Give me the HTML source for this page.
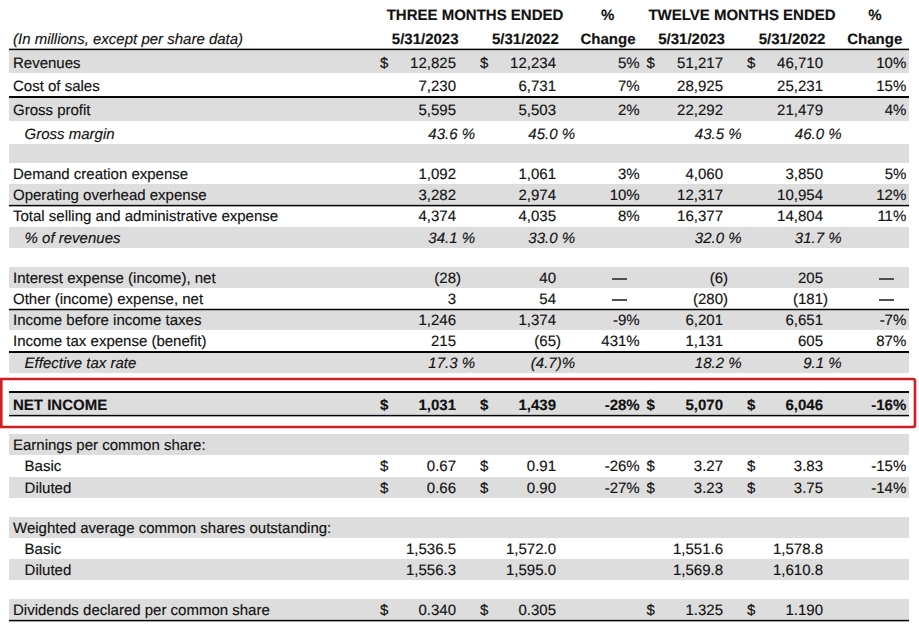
<!DOCTYPE html>
<html><head><meta charset="utf-8">
<style>
html,body{margin:0;padding:0;background:#fff;}
body{width:919px;height:636px;position:relative;overflow:hidden;font-family:"Liberation Sans",sans-serif;font-size:15px;color:#111;}
body>div{position:absolute;}
.t{white-space:nowrap;line-height:20px;text-rendering:geometricPrecision;-webkit-text-stroke:0.15px #111;}
</style></head><body>
<div style="left:9px;top:50px;width:900px;height:23px;background:#dddddd"></div>
<div style="left:9px;top:98px;width:900px;height:23px;background:#dddddd"></div>
<div style="left:9px;top:144px;width:900px;height:18.599999999999994px;background:#dddddd"></div>
<div style="left:9px;top:184px;width:900px;height:21px;background:#dddddd"></div>
<div style="left:9px;top:227px;width:900px;height:21px;background:#dddddd"></div>
<div style="left:9px;top:267px;width:900px;height:21px;background:#dddddd"></div>
<div style="left:9px;top:310px;width:900px;height:20px;background:#dddddd"></div>
<div style="left:9px;top:353px;width:900px;height:20px;background:#dddddd"></div>
<div style="left:9px;top:393px;width:900px;height:22px;background:#dddddd"></div>
<div style="left:9px;top:434px;width:900px;height:21px;background:#dddddd"></div>
<div style="left:9px;top:477px;width:900px;height:21px;background:#dddddd"></div>
<div style="left:9px;top:517px;width:900px;height:21px;background:#dddddd"></div>
<div style="left:9px;top:559px;width:900px;height:21px;background:#dddddd"></div>
<div style="left:9px;top:599px;width:900px;height:21px;background:#dddddd"></div>
<svg style="position:absolute;left:0;top:0" width="919" height="636" viewBox="0 0 919 636"><rect x="9" y="48.65" width="900" height="1.5" fill="#050505"/><rect x="9" y="96" width="900" height="2" fill="#050505"/><rect x="9" y="204.85" width="900" height="1.5" fill="#050505"/><rect x="9" y="308.75" width="900" height="1.5" fill="#050505"/><rect x="9" y="351" width="900" height="2" fill="#050505"/><rect x="9" y="391" width="900" height="2" fill="#050505"/><rect x="9" y="414.85" width="900" height="1.5" fill="#050505"/><rect x="9" y="619.85" width="900" height="1.5" fill="#050505"/></svg>
<div class="t" style="left:325.00px;width:300px;top:5.87px;text-align:center;font-weight:bold;">THREE MONTHS ENDED</div>
<div class="t" style="left:457.70px;width:300px;top:5.87px;text-align:center;font-weight:bold;">%</div>
<div class="t" style="left:592.00px;width:300px;top:5.87px;text-align:center;font-weight:bold;">TWELVE MONTHS ENDED</div>
<div class="t" style="left:725.00px;width:300px;top:5.87px;text-align:center;font-weight:bold;">%</div>
<div class="t" style="left:13px;top:29.87px;font-style:italic;">(In millions, except per share data)</div>
<div class="t" style="left:275.20px;width:300px;top:29.87px;text-align:center;font-weight:bold;">5/31/2023</div>
<div class="t" style="left:375.40px;width:300px;top:29.87px;text-align:center;font-weight:bold;">5/31/2022</div>
<div class="t" style="left:458.00px;width:300px;top:29.87px;text-align:center;font-weight:bold;">Change</div>
<div class="t" style="left:541.60px;width:300px;top:29.87px;text-align:center;font-weight:bold;">5/31/2023</div>
<div class="t" style="left:642.00px;width:300px;top:29.87px;text-align:center;font-weight:bold;">5/31/2022</div>
<div class="t" style="left:724.80px;width:300px;top:29.87px;text-align:center;font-weight:bold;">Change</div>
<div class="t" style="left:13px;top:53.87px;">Revenues</div>
<div class="t" style="left:380px;top:53.87px;">$</div>
<div class="t" style="left:480px;top:53.87px;">$</div>
<div class="t" style="left:646.5px;top:53.87px;">$</div>
<div class="t" style="left:747px;top:53.87px;">$</div>
<div class="t" style="right:463.00px;top:53.87px;text-align:right;">12,825</div>
<div class="t" style="right:363.00px;top:53.87px;text-align:right;">12,234</div>
<div class="t" style="right:279.30px;top:53.87px;text-align:right;">5%</div>
<div class="t" style="right:196.00px;top:53.87px;text-align:right;">51,217</div>
<div class="t" style="right:96.00px;top:53.87px;text-align:right;">46,710</div>
<div class="t" style="right:12.70px;top:53.87px;text-align:right;">10%</div>
<div class="t" style="left:13px;top:76.87px;">Cost of sales</div>
<div class="t" style="right:463.00px;top:76.87px;text-align:right;">7,230</div>
<div class="t" style="right:363.00px;top:76.87px;text-align:right;">6,731</div>
<div class="t" style="right:279.30px;top:76.87px;text-align:right;">7%</div>
<div class="t" style="right:196.00px;top:76.87px;text-align:right;">28,925</div>
<div class="t" style="right:96.00px;top:76.87px;text-align:right;">25,231</div>
<div class="t" style="right:12.70px;top:76.87px;text-align:right;">15%</div>
<div class="t" style="left:13px;top:100.87px;">Gross profit</div>
<div class="t" style="right:463.00px;top:100.87px;text-align:right;">5,595</div>
<div class="t" style="right:363.00px;top:100.87px;text-align:right;">5,503</div>
<div class="t" style="right:279.30px;top:100.87px;text-align:right;">2%</div>
<div class="t" style="right:196.00px;top:100.87px;text-align:right;">22,292</div>
<div class="t" style="right:96.00px;top:100.87px;text-align:right;">21,479</div>
<div class="t" style="right:12.70px;top:100.87px;text-align:right;">4%</div>
<div class="t" style="left:24.6px;top:124.87px;font-style:italic;">Gross margin</div>
<div class="t" style="right:444.00px;top:124.87px;text-align:right;font-style:italic;">43.6 %</div>
<div class="t" style="right:344.00px;top:124.87px;text-align:right;font-style:italic;">45.0 %</div>
<div class="t" style="right:177.50px;top:124.87px;text-align:right;font-style:italic;">43.5 %</div>
<div class="t" style="right:77.50px;top:124.87px;text-align:right;font-style:italic;">46.0 %</div>
<div class="t" style="left:13px;top:164.87px;">Demand creation expense</div>
<div class="t" style="right:463.00px;top:164.87px;text-align:right;">1,092</div>
<div class="t" style="right:363.00px;top:164.87px;text-align:right;">1,061</div>
<div class="t" style="right:279.30px;top:164.87px;text-align:right;">3%</div>
<div class="t" style="right:196.00px;top:164.87px;text-align:right;">4,060</div>
<div class="t" style="right:96.00px;top:164.87px;text-align:right;">3,850</div>
<div class="t" style="right:12.70px;top:164.87px;text-align:right;">5%</div>
<div class="t" style="left:13px;top:185.87px;">Operating overhead expense</div>
<div class="t" style="right:463.00px;top:185.87px;text-align:right;">3,282</div>
<div class="t" style="right:363.00px;top:185.87px;text-align:right;">2,974</div>
<div class="t" style="right:279.30px;top:185.87px;text-align:right;">10%</div>
<div class="t" style="right:196.00px;top:185.87px;text-align:right;">12,317</div>
<div class="t" style="right:96.00px;top:185.87px;text-align:right;">10,954</div>
<div class="t" style="right:12.70px;top:185.87px;text-align:right;">12%</div>
<div class="t" style="left:13px;top:206.87px;">Total selling and administrative expense</div>
<div class="t" style="right:463.00px;top:206.87px;text-align:right;">4,374</div>
<div class="t" style="right:363.00px;top:206.87px;text-align:right;">4,035</div>
<div class="t" style="right:279.30px;top:206.87px;text-align:right;">8%</div>
<div class="t" style="right:196.00px;top:206.87px;text-align:right;">16,377</div>
<div class="t" style="right:96.00px;top:206.87px;text-align:right;">14,804</div>
<div class="t" style="right:12.70px;top:206.87px;text-align:right;">11%</div>
<div class="t" style="left:24.6px;top:228.87px;font-style:italic;">% of revenues</div>
<div class="t" style="right:444.00px;top:228.87px;text-align:right;font-style:italic;">34.1 %</div>
<div class="t" style="right:344.00px;top:228.87px;text-align:right;font-style:italic;">33.0 %</div>
<div class="t" style="right:177.50px;top:228.87px;text-align:right;font-style:italic;">32.0 %</div>
<div class="t" style="right:77.50px;top:228.87px;text-align:right;font-style:italic;">31.7 %</div>
<div class="t" style="left:13px;top:268.87px;">Interest expense (income), net</div>
<div class="t" style="right:458.00px;top:268.87px;text-align:right;">(28)</div>
<div class="t" style="right:363.00px;top:268.87px;text-align:right;">40</div>
<div class="t" style="right:191.00px;top:268.87px;text-align:right;">(6)</div>
<div class="t" style="right:96.00px;top:268.87px;text-align:right;">205</div>
<div style="left:612px;top:278px;width:15px;height:2px;background:#505050"></div>
<div style="left:879px;top:278px;width:15px;height:2px;background:#505050"></div>
<div class="t" style="left:13px;top:289.87px;">Other (income) expense, net</div>
<div class="t" style="right:463.00px;top:289.87px;text-align:right;">3</div>
<div class="t" style="right:363.00px;top:289.87px;text-align:right;">54</div>
<div class="t" style="right:191.00px;top:289.87px;text-align:right;">(280)</div>
<div class="t" style="right:91.00px;top:289.87px;text-align:right;">(181)</div>
<div style="left:612px;top:299px;width:15px;height:2px;background:#505050"></div>
<div style="left:879px;top:299px;width:15px;height:2px;background:#505050"></div>
<div class="t" style="left:13px;top:310.87px;">Income before income taxes</div>
<div class="t" style="right:463.00px;top:310.87px;text-align:right;">1,246</div>
<div class="t" style="right:363.00px;top:310.87px;text-align:right;">1,374</div>
<div class="t" style="right:279.30px;top:310.87px;text-align:right;">-9%</div>
<div class="t" style="right:196.00px;top:310.87px;text-align:right;">6,201</div>
<div class="t" style="right:96.00px;top:310.87px;text-align:right;">6,651</div>
<div class="t" style="right:12.70px;top:310.87px;text-align:right;">-7%</div>
<div class="t" style="left:13px;top:331.87px;">Income tax expense (benefit)</div>
<div class="t" style="right:463.00px;top:331.87px;text-align:right;">215</div>
<div class="t" style="right:358.00px;top:331.87px;text-align:right;">(65)</div>
<div class="t" style="right:279.30px;top:331.87px;text-align:right;">431%</div>
<div class="t" style="right:196.00px;top:331.87px;text-align:right;">1,131</div>
<div class="t" style="right:96.00px;top:331.87px;text-align:right;">605</div>
<div class="t" style="right:12.70px;top:331.87px;text-align:right;">87%</div>
<div class="t" style="left:24.6px;top:353.87px;font-style:italic;">Effective tax rate</div>
<div class="t" style="right:444.00px;top:353.87px;text-align:right;font-style:italic;">17.3 %</div>
<div class="t" style="right:344.00px;top:353.87px;text-align:right;font-style:italic;">(4.7)%</div>
<div class="t" style="right:177.50px;top:353.87px;text-align:right;font-style:italic;">18.2 %</div>
<div class="t" style="right:77.50px;top:353.87px;text-align:right;font-style:italic;">9.1 %</div>
<div class="t" style="left:13px;top:395.87px;font-weight:bold;">NET INCOME</div>
<div class="t" style="left:380px;top:395.87px;font-weight:bold;">$</div>
<div class="t" style="left:480px;top:395.87px;font-weight:bold;">$</div>
<div class="t" style="left:646.5px;top:395.87px;font-weight:bold;">$</div>
<div class="t" style="left:747px;top:395.87px;font-weight:bold;">$</div>
<div class="t" style="right:463.00px;top:395.87px;text-align:right;font-weight:bold;">1,031</div>
<div class="t" style="right:363.00px;top:395.87px;text-align:right;font-weight:bold;">1,439</div>
<div class="t" style="right:279.30px;top:395.87px;text-align:right;font-weight:bold;">-28%</div>
<div class="t" style="right:196.00px;top:395.87px;text-align:right;font-weight:bold;">5,070</div>
<div class="t" style="right:96.00px;top:395.87px;text-align:right;font-weight:bold;">6,046</div>
<div class="t" style="right:12.70px;top:395.87px;text-align:right;font-weight:bold;">-16%</div>
<div class="t" style="left:13px;top:435.87px;">Earnings per common share:</div>
<div class="t" style="left:24.6px;top:456.87px;">Basic</div>
<div class="t" style="left:380px;top:456.87px;">$</div>
<div class="t" style="left:480px;top:456.87px;">$</div>
<div class="t" style="left:646.5px;top:456.87px;">$</div>
<div class="t" style="left:747px;top:456.87px;">$</div>
<div class="t" style="right:463.00px;top:456.87px;text-align:right;">0.67</div>
<div class="t" style="right:363.00px;top:456.87px;text-align:right;">0.91</div>
<div class="t" style="right:279.30px;top:456.87px;text-align:right;">-26%</div>
<div class="t" style="right:196.00px;top:456.87px;text-align:right;">3.27</div>
<div class="t" style="right:96.00px;top:456.87px;text-align:right;">3.83</div>
<div class="t" style="right:12.70px;top:456.87px;text-align:right;">-15%</div>
<div class="t" style="left:24.6px;top:478.87px;">Diluted</div>
<div class="t" style="left:380px;top:478.87px;">$</div>
<div class="t" style="left:480px;top:478.87px;">$</div>
<div class="t" style="left:646.5px;top:478.87px;">$</div>
<div class="t" style="left:747px;top:478.87px;">$</div>
<div class="t" style="right:463.00px;top:478.87px;text-align:right;">0.66</div>
<div class="t" style="right:363.00px;top:478.87px;text-align:right;">0.90</div>
<div class="t" style="right:279.30px;top:478.87px;text-align:right;">-27%</div>
<div class="t" style="right:196.00px;top:478.87px;text-align:right;">3.23</div>
<div class="t" style="right:96.00px;top:478.87px;text-align:right;">3.75</div>
<div class="t" style="right:12.70px;top:478.87px;text-align:right;">-14%</div>
<div class="t" style="left:13px;top:518.87px;">Weighted average common shares outstanding:</div>
<div class="t" style="left:24.6px;top:539.87px;">Basic</div>
<div class="t" style="right:463.00px;top:539.87px;text-align:right;">1,536.5</div>
<div class="t" style="right:363.00px;top:539.87px;text-align:right;">1,572.0</div>
<div class="t" style="right:196.00px;top:539.87px;text-align:right;">1,551.6</div>
<div class="t" style="right:96.00px;top:539.87px;text-align:right;">1,578.8</div>
<div class="t" style="left:24.6px;top:560.87px;">Diluted</div>
<div class="t" style="right:463.00px;top:560.87px;text-align:right;">1,556.3</div>
<div class="t" style="right:363.00px;top:560.87px;text-align:right;">1,595.0</div>
<div class="t" style="right:196.00px;top:560.87px;text-align:right;">1,569.8</div>
<div class="t" style="right:96.00px;top:560.87px;text-align:right;">1,610.8</div>
<div class="t" style="left:13px;top:600.87px;">Dividends declared per common share</div>
<div class="t" style="left:380px;top:600.87px;">$</div>
<div class="t" style="left:480px;top:600.87px;">$</div>
<div class="t" style="left:646.5px;top:600.87px;">$</div>
<div class="t" style="left:747px;top:600.87px;">$</div>
<div class="t" style="right:463.00px;top:600.87px;text-align:right;">0.340</div>
<div class="t" style="right:363.00px;top:600.87px;text-align:right;">0.305</div>
<div class="t" style="right:196.00px;top:600.87px;text-align:right;">1.325</div>
<div class="t" style="right:96.00px;top:600.87px;text-align:right;">1.190</div>
<svg style="position:absolute;left:0;top:0" width="919" height="636" viewBox="0 0 919 636"><path d="M1.3,379.05 H913 A2,2 0 0 1 915,381.05 V425.03 A2,2 0 0 1 913,427.03 H1.3 Z" fill="none" stroke="#d41c23" stroke-width="2.6" stroke-linejoin="miter"/></svg>
</body></html>
